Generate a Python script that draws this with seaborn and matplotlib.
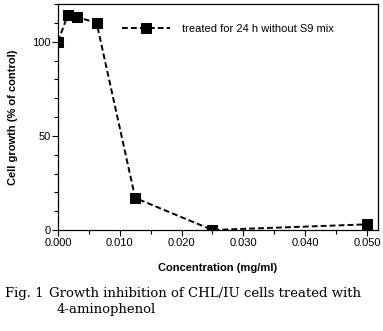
import matplotlib
matplotlib.use("Agg")
import matplotlib.pyplot as plt
from matplotlib.ticker import MultipleLocator
import pandas as pd
import seaborn as sns

# Cell growth of CHL/IU cells after 24 h treatment with 4-aminophenol
concentration = [0.0, 0.00156, 0.00313, 0.00625, 0.0125, 0.025, 0.05]
growth = [100, 114, 113, 110, 17, 0, 3]
series_label = "treated for 24 h without S9 mix"
x_ticks = [0.000, 0.010, 0.020, 0.030, 0.040, 0.050]
y_ticks = [0, 50, 100]

df = pd.DataFrame({"conc": concentration, "growth": growth})

sns.set_style("ticks")
plt.rcParams["font.family"] = ["Liberation Sans", "DejaVu Sans"]
plt.rcParams.update({"text.color": "black", "axes.labelcolor": "black",
                     "xtick.color": "black", "ytick.color": "black"})

W, H = 383, 331
fig = plt.figure(figsize=(W / 100, H / 100), dpi=100)
ax = fig.add_axes([58 / W, (H - 230) / H, 320 / W, 226 / H])

sns.lineplot(data=df, x="conc", y="growth", ax=ax, color="black",
             linestyle=(0, (3, 1.6)), linewidth=1.4, marker="s",
             markersize=7, markeredgecolor="black", label=series_label)

ax.set_xlim(0, 0.0518)
ax.set_ylim(0, 120)
ax.set_xticks(x_ticks)
ax.set_xticklabels([f"{v:.3f}" for v in x_ticks])
ax.set_yticks(y_ticks)
ax.xaxis.set_minor_locator(MultipleLocator(0.005))
ax.yaxis.set_minor_locator(MultipleLocator(10))
ax.tick_params(axis="both", which="major", length=4, width=0.8,
               labelsize=8, pad=1.5, color="black", labelcolor="black")
ax.tick_params(axis="both", which="minor", length=3, width=0.8, color="black")
for s in ax.spines.values():
    s.set_visible(True)
    s.set_color("black")
    s.set_linewidth(0.9)

ax.set_xlabel("Concentration (mg/ml)", fontsize=8, fontweight="bold", labelpad=11)
ax.set_ylabel("Cell growth (% of control)", fontsize=8, fontweight="bold", labelpad=10)

ax.legend(loc="upper left", bbox_to_anchor=(0.17, 0.955), frameon=False,
          fontsize=8, handlelength=4.3, handletextpad=1.1)

serif = ["DejaVu Serif"]
fig.text(5 / W, 1 - 294 / H, "Fig. 1", family=serif, fontsize=9.5, va="center")
fig.text(49 / W, 1 - 294 / H, "Growth inhibition of CHL/IU cells treated with",
         family=serif, fontsize=9.5, va="center")
fig.text(57 / W, 1 - 309 / H, "4-aminophenol", family=serif, fontsize=9.5, va="center")

fig.savefig("out.png", dpi=100)
